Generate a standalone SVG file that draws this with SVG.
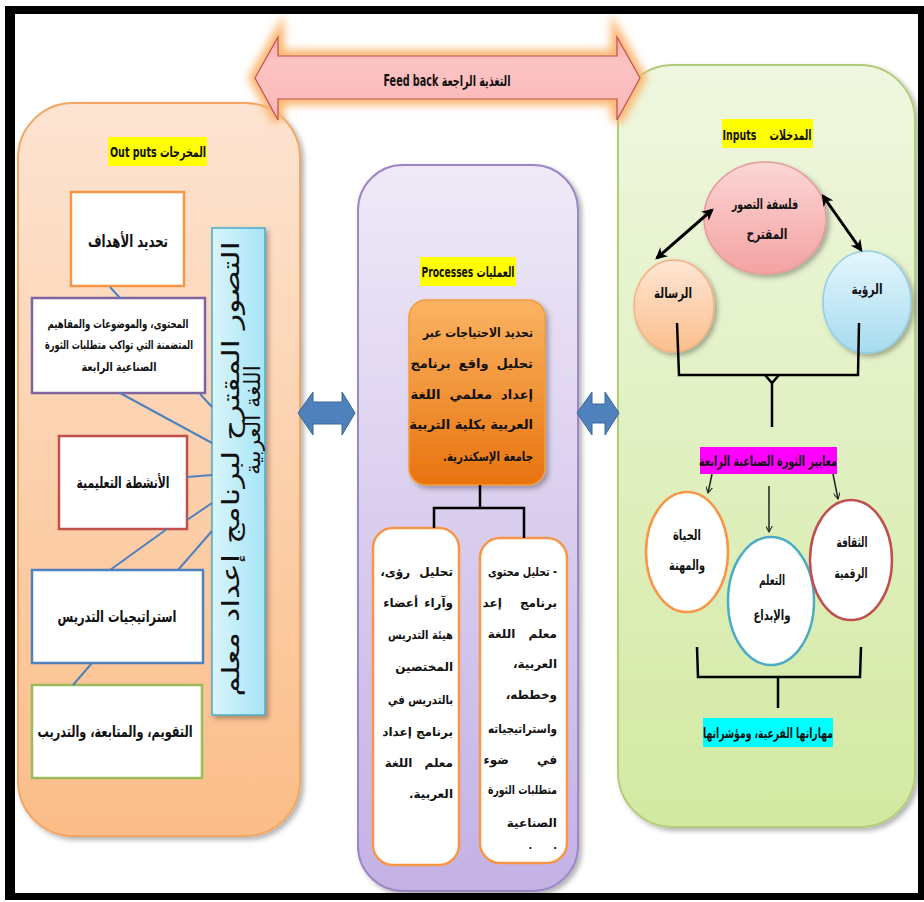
<svg xmlns="http://www.w3.org/2000/svg" width="924" height="902" viewBox="0 0 924 902">
<style>
.ar{font-family:"DejaVu Sans",sans-serif;font-weight:bold;direction:rtl;fill:#111}
.vt{font-family:"DejaVu Sans",sans-serif;font-weight:normal;direction:rtl;fill:#111}
.cn{font-family:"Liberation Sans Narrow","DejaVu Sans Condensed","DejaVu Sans",sans-serif;font-weight:bold;direction:rtl;fill:#111}
.m{text-anchor:middle}
.rs{text-anchor:start}
.box{fill:#fff;stroke-width:2.5}
.bl{stroke:#4f81bd;stroke-width:2;fill:none}
.blk{stroke:#000;stroke-width:2.5;fill:none}
.thin{stroke:#222;stroke-width:1.5;fill:none;marker-end:url(#av)}
.dbl{stroke:#000;stroke-width:3;fill:none;marker-start:url(#ah);marker-end:url(#ah)}
.barrow{fill:#4f81bd;stroke:#3a659a;stroke-width:1}
</style>
<defs>
<linearGradient id="gOut" x1="0" y1="0" x2="0" y2="1"><stop offset="0" stop-color="#fde4d2"/><stop offset="1" stop-color="#fbbd88"/></linearGradient>
<linearGradient id="gProc" x1="0" y1="0" x2="0" y2="1"><stop offset="0" stop-color="#efe9f7"/><stop offset="1" stop-color="#c4b1e5"/></linearGradient>
<linearGradient id="gIn" x1="0" y1="0" x2="0" y2="1"><stop offset="0" stop-color="#eff7e0"/><stop offset="1" stop-color="#d3e9a2"/></linearGradient>
<linearGradient id="gOrange" x1="0" y1="0" x2="0" y2="1"><stop offset="0" stop-color="#fbb463"/><stop offset="1" stop-color="#e8730e"/></linearGradient>
<linearGradient id="gPink" x1="0" y1="0" x2="0" y2="1"><stop offset="0" stop-color="#fcd6d6"/><stop offset="1" stop-color="#f3a2a2"/></linearGradient>
<linearGradient id="gPeach" x1="0" y1="0" x2="0" y2="1"><stop offset="0" stop-color="#fee6d3"/><stop offset="1" stop-color="#fbbf8e"/></linearGradient>
<linearGradient id="gSky" x1="0" y1="0" x2="0" y2="1"><stop offset="0" stop-color="#e4f6fc"/><stop offset="1" stop-color="#a7dbef"/></linearGradient>
<linearGradient id="gVert" x1="0" y1="0" x2="1" y2="0"><stop offset="0" stop-color="#d9f5fc"/><stop offset="1" stop-color="#a6e4f6"/></linearGradient>
<linearGradient id="gFeed" x1="0" y1="0" x2="0" y2="1"><stop offset="0" stop-color="#f5a6a6"/><stop offset="0.3" stop-color="#fcc3c3"/><stop offset="1" stop-color="#fab6b6"/></linearGradient>
<filter id="glow" x="-10%" y="-50%" width="120%" height="200%"><feGaussianBlur stdDeviation="4"/></filter>
<filter id="shadow" x="-10%" y="-10%" width="125%" height="125%"><feDropShadow dx="3" dy="3" stdDeviation="2.5" flood-color="#000" flood-opacity="0.3"/></filter>
<marker id="ah" viewBox="0 0 10 10" refX="8" refY="5" markerWidth="4" markerHeight="4" orient="auto-start-reverse"><path d="M0,0 L10,5 L0,10 L3,5 Z" fill="#000"/></marker>
<marker id="av" viewBox="0 0 10 10" refX="9" refY="5" markerWidth="7" markerHeight="7" orient="auto" markerUnits="userSpaceOnUse"><path d="M0,0 L9,5 L0,10" fill="none" stroke="#222" stroke-width="1.5"/></marker>
</defs>

<rect x="0" y="0" width="924" height="902" fill="#fff"/>

<g id="outputs-panel">
<rect x="18" y="103" width="282" height="733" rx="55" fill="url(#gOut)" stroke="#f3a562" stroke-width="2" filter="url(#shadow)"/>
<rect x="108" y="137" width="99" height="29" fill="#ffff00"/>
<text class="cn m" x="158" y="157" font-size="14" textLength="96" lengthAdjust="spacingAndGlyphs">المخرجات Out puts</text>
</g>

<g id="processes-panel">
<rect x="358" y="165" width="220" height="726" rx="45" fill="url(#gProc)" stroke="#9d88c6" stroke-width="2" filter="url(#shadow)"/>
<rect x="420" y="257" width="96" height="29" fill="#ffff00"/>
<text class="cn m" x="468" y="277" font-size="14" textLength="93" lengthAdjust="spacingAndGlyphs">العمليات Processes</text>
</g>

<g id="inputs-panel">
<rect x="618" y="65" width="297" height="762" rx="55" fill="url(#gIn)" stroke="#b2cc7a" stroke-width="2" filter="url(#shadow)"/>
<rect x="722" y="119" width="91" height="29" fill="#ffff00"/>
<text class="cn m" x="767" y="140" font-size="14" style="white-space:pre" textLength="89" lengthAdjust="spacingAndGlyphs">المدخلات    Inputs</text>
</g>

<g id="feedback">
<path d="M255,78 L278,37 L278,56 L617,56 L617,37 L640,78 L617,120 L617,99 L278,99 L278,120 Z" fill="none" stroke="#fbb46c" stroke-width="12" filter="url(#glow)"/>
<path d="M255,78 L278,37 L278,56 L617,56 L617,37 L640,78 L617,120 L617,99 L278,99 L278,120 Z" fill="url(#gFeed)" stroke="#c0504d" stroke-width="1.2"/>
<text class="cn m" x="447" y="86" font-size="15" textLength="127" lengthAdjust="spacingAndGlyphs">التغذية الراجعة Feed back</text>
</g>

<g id="out-goals">
<rect class="box" x="71" y="192" width="113" height="94" stroke="#f79646"/>
<text class="ar m" x="128" y="247" font-size="17" textLength="80" lengthAdjust="spacingAndGlyphs">تحديد الأهداف</text>
</g>
<g id="out-content">
<rect class="box" x="32" y="298" width="173" height="95" stroke="#8064a2"/>
<text class="ar m" x="118" y="328" font-size="12" textLength="141" lengthAdjust="spacingAndGlyphs">المحتوى، والموضوعات والمفاهيم</text>
<text class="ar m" x="119" y="349" font-size="12" textLength="148" lengthAdjust="spacingAndGlyphs">المتضمنة التي تواكب متطلبات الثورة</text>
<text class="ar m" x="119" y="371" font-size="12" textLength="75" lengthAdjust="spacingAndGlyphs">الصناعية الرابعة</text>
</g>
<g id="out-activities">
<rect class="box" x="59" y="436" width="128" height="93" stroke="#c0504d"/>
<text class="ar m" x="123" y="488" font-size="16" font-weight="normal" textLength="93" lengthAdjust="spacingAndGlyphs">الأنشطة التعليمية</text>
</g>
<g id="out-strategies">
<rect class="box" x="32" y="570" width="171" height="93" stroke="#4f81bd"/>
<text class="ar m" x="117" y="622" font-size="16" font-weight="normal" textLength="119" lengthAdjust="spacingAndGlyphs">استراتيجيات التدريس</text>
</g>
<g id="out-evaluation">
<rect class="box" x="32" y="685" width="170" height="93" stroke="#9bbb59"/>
<text class="ar m" x="115" y="737" font-size="16" font-weight="normal" textLength="155" lengthAdjust="spacingAndGlyphs">التقويم، والمتابعة، والتدريب</text>
</g>
<g id="out-title">
<rect x="212" y="228" width="53" height="487" fill="url(#gVert)" stroke="#4bacc6" stroke-width="1.5" filter="url(#shadow)"/>
<text class="vt m" transform="translate(239,469) rotate(-90)" font-size="24" textLength="455" lengthAdjust="spacingAndGlyphs">التصور المقترح لبرنامج إعداد معلم</text>
<text class="vt m" transform="translate(260,420) rotate(-90)" font-size="22">اللغة العربية</text>
</g>

<g id="proc-needs">
<rect x="409" y="300" width="136" height="185" rx="17" fill="url(#gOrange)" stroke="#f39a3c" stroke-width="1.5" filter="url(#shadow)"/>
<text class="ar rs" x="533" y="337" font-size="13" textLength="110" lengthAdjust="spacingAndGlyphs">تحديد الاحتياجات عبر</text>
<text class="ar rs" x="533" y="368" font-size="13" word-spacing="3.5">تحليل واقع برنامج</text>
<text class="ar rs" x="533" y="399" font-size="13" word-spacing="4.5">إعداد معلمي اللغة</text>
<text class="ar rs" x="533" y="429" font-size="13">العربية بكلية التربية</text>
<text class="ar rs" x="533" y="461" font-size="13" textLength="90" lengthAdjust="spacingAndGlyphs">جامعة الإسكندرية.</text>
</g>
<g id="proc-opinions">
<rect class="box" x="373" y="528" width="86" height="337" rx="20" stroke="#f79646"/>
<text class="ar rs" x="453" y="576" font-size="12" word-spacing="5">تحليل رؤى،</text>
<text class="ar rs" x="453" y="607" font-size="12" word-spacing="2">وآراء أعضاء</text>
<text class="ar rs" x="453" y="639" font-size="12" textLength="65" lengthAdjust="spacingAndGlyphs">هيئة التدريس</text>
<text class="ar rs" x="453" y="671" font-size="12">المختصين</text>
<text class="ar rs" x="453" y="704" font-size="12" textLength="65" lengthAdjust="spacingAndGlyphs">بالتدريس في</text>
<text class="ar rs" x="453" y="736" font-size="12">برنامج إعداد</text>
<text class="ar rs" x="453" y="767" font-size="12" word-spacing="8">معلم اللغة</text>
<text class="ar rs" x="453" y="798" font-size="12">العربية.</text>
</g>
<g id="proc-content">
<rect class="box" x="480" y="538" width="87" height="325" rx="20" stroke="#f79646"/>
<text class="ar rs" x="557" y="576" font-size="12" textLength="69" lengthAdjust="spacingAndGlyphs">- تحليل محتوى</text>
<text class="ar rs" x="557" y="607" font-size="12" word-spacing="14">برنامج إعد</text>
<text class="ar rs" x="557" y="638" font-size="12" word-spacing="9">معلم اللغة</text>
<text class="ar rs" x="557" y="668" font-size="12">العربية،</text>
<text class="ar rs" x="557" y="699" font-size="12">وخططه،</text>
<text class="ar rs" x="557" y="733" font-size="12" textLength="69" lengthAdjust="spacingAndGlyphs">واستراتيجياته</text>
<text class="ar rs" x="557" y="764" font-size="12" word-spacing="24">في ضوء</text>
<text class="ar rs" x="557" y="794" font-size="12" textLength="69" lengthAdjust="spacingAndGlyphs">متطلبات الثورة</text>
<text class="ar rs" x="557" y="827" font-size="12">الصناعية</text>
<text class="ar rs" x="557" y="849" font-size="10" style="white-space:pre">.      .</text>
</g>

<g id="in-philosophy">
<ellipse cx="765" cy="218" rx="61" ry="56" fill="url(#gPink)" stroke="#e79a9a" stroke-width="1.5" filter="url(#shadow)"/>
<text class="ar m" x="765" y="209" font-size="14" textLength="66" lengthAdjust="spacingAndGlyphs">فلسفة التصور</text>
<text class="ar m" x="767" y="239" font-size="14" textLength="41" lengthAdjust="spacingAndGlyphs">المقترح</text>
</g>
<g id="in-mission">
<ellipse cx="674" cy="306" rx="40" ry="46" fill="url(#gPeach)" stroke="#f4b183" stroke-width="1.5" filter="url(#shadow)"/>
<text class="ar m" x="673" y="298" font-size="14" textLength="38" lengthAdjust="spacingAndGlyphs">الرسالة</text>
</g>
<g id="in-vision">
<ellipse cx="867" cy="302" rx="44" ry="51" fill="url(#gSky)" stroke="#93cde6" stroke-width="1.5" filter="url(#shadow)"/>
<text class="ar m" x="867" y="294" font-size="14" textLength="31" lengthAdjust="spacingAndGlyphs">الرؤية</text>
</g>
<g id="in-standards">
<rect x="700" y="447" width="137" height="27" fill="#ff00ff"/>
<text class="ar m" x="768" y="466" font-size="14" textLength="138" lengthAdjust="spacingAndGlyphs">معايير الثورة الصناعية الرابعة</text>
</g>
<g id="in-life">
<ellipse cx="687" cy="552" rx="41" ry="60" fill="#fff" stroke="#f79646" stroke-width="2.5"/>
<text class="ar m" x="687" y="540" font-size="14" textLength="28" lengthAdjust="spacingAndGlyphs">الحياة</text>
<text class="ar m" x="687" y="570" font-size="14" textLength="36" lengthAdjust="spacingAndGlyphs">والمهنة</text>
</g>
<g id="in-learning">
<ellipse cx="771" cy="601" rx="43" ry="64" fill="#fff" stroke="#4bacc6" stroke-width="2.5"/>
<text class="ar m" x="772" y="585" font-size="14" textLength="26" lengthAdjust="spacingAndGlyphs">التعلم</text>
<text class="ar m" x="772" y="620" font-size="14" textLength="37" lengthAdjust="spacingAndGlyphs">والإبداع</text>
</g>
<g id="in-digital">
<ellipse cx="851" cy="560" rx="41" ry="60" fill="#fff" stroke="#c0504d" stroke-width="2.5"/>
<text class="ar m" x="852" y="547" font-size="14" textLength="31" lengthAdjust="spacingAndGlyphs">الثقافة</text>
<text class="ar m" x="851" y="578" font-size="14" textLength="33" lengthAdjust="spacingAndGlyphs">الرقمية</text>
</g>
<g id="in-skills">
<rect x="703" y="718" width="130" height="29" fill="#00ffff"/>
<text class="ar m" x="768" y="738" font-size="14" textLength="130" lengthAdjust="spacingAndGlyphs">مهاراتها الفرعية، ومؤشراتها</text>
</g>

<g id="connectors">
<path class="bl" d="M110,287 L120,298 M120,393 L212,443 M200,394 L212,407 M187,477 L212,475 M187,520 L212,503 M167,529 L110,570 M178,570 L212,531 M92,663 L73,685"/>
<path class="barrow" d="M298,413 L313,392 L313,402 L342,402 L342,392 L355,413 L342,435 L342,424 L313,424 L313,435 Z"/>
<path class="barrow" d="M577,413 L592,392 L592,404 L605,404 L605,392 L619,413 L605,435 L605,423 L592,423 L592,435 Z"/>
<path class="blk" d="M480,485 L480,508 M434,528 L434,508 L524,508 L524,538"/>
<line class="dbl" x1="712" y1="210" x2="657" y2="258"/>
<line class="dbl" x1="823" y1="196" x2="861" y2="250"/>
<path class="blk" d="M677,323 L679,375 L858,375 L859,323 M765,375 L772,383 L779,375 M772,382 L772,427"/>
<line class="thin" x1="712" y1="474" x2="708" y2="493"/>
<line class="thin" x1="769" y1="486" x2="769" y2="532"/>
<line class="thin" x1="833" y1="474" x2="838" y2="499"/>
<path class="blk" d="M697,647 L698,677 L860,677 L861,647 M778,677 L778,708"/>
</g>

<g id="frame" fill="#000">
<rect x="5" y="6" width="919" height="8"/>
<rect x="5" y="6" width="10" height="894"/>
<rect x="918" y="6" width="6" height="894"/>
<rect x="5" y="893" width="919" height="7"/>
</g>
</svg>
